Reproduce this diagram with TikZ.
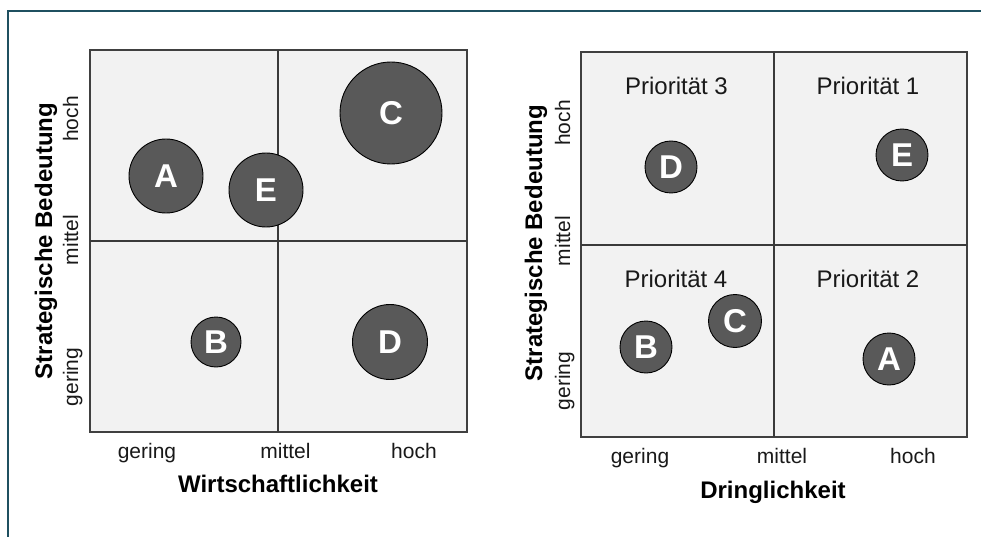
\documentclass[tikz,border=0pt]{standalone}
\usepackage{fontspec}
\setmainfont{Liberation Sans}
\definecolor{frameteal}{RGB}{31,80,96}
\definecolor{boxfill}{RGB}{242,242,242}
\definecolor{boxline}{RGB}{64,64,64}
\definecolor{bubble}{RGB}{89,89,89}
\tikzset{
  panel/.style={draw=boxline, line width=1.5pt, fill=boxfill},
  divider/.style={draw=boxline!90!black, line width=1.2pt},
  tick/.style={font=\fontsize{21}{25}\selectfont, text=black!90, anchor=base, inner sep=0pt},
  ytick/.style={tick, rotate=90},
  axistitle/.style={font=\fontsize{24}{28}\selectfont\bfseries, anchor=base, inner sep=0pt},
  yaxistitle/.style={axistitle, rotate=90},
  prio/.style={font=\fontsize{24}{28}\selectfont, text=black!90, anchor=base, inner sep=0pt},
  bub/.style={circle, draw=black, line width=0.9pt, fill=bubble, inner sep=0pt,
     text=white, font=\fontsize{33}{36}\selectfont\bfseries, minimum size=#1}
}
\begin{document}
\begin{tikzpicture}[x=1pt,y=-1pt]
\useasboundingbox (0,0) rectangle (981,537);
% outer frame
\draw[frameteal, line width=1.5pt] (981,11) -- (8,11) -- (8,537);

% ---------- left panel ----------
\path[panel] (90,50) rectangle (467,432);
\draw[divider] (278,50) -- (278,432);
\draw[divider] (90,241) -- (467,241);

\node[tick] (lxg) at (147,458) {gering};
\node[tick] (lxm) at (285.5,458) {mittel};
\node[tick] (lxh) at (414,458) {hoch};
\node[axistitle] (lxt) at (278,492) {Wirtschaftlichkeit};

\node[ytick] (lyh) at (78,119) {hoch};
\node[ytick] (lym) at (78,240) {mittel};
\node[ytick] (lyg) at (78,377) {gering};
\node[yaxistitle] (lyt) at (52,241) {Strategische Bedeutung};

\node[bub=74pt] (lA) at (166,176) {A};
\node[bub=74pt] (lE) at (266,190) {E};
\node[bub=102pt] (lC) at (391,113) {C};
\node[bub=50pt] (lB) at (216,342) {B};
\node[bub=75pt] (lD) at (390,342) {D};

% ---------- right panel ----------
\path[panel] (581,52) rectangle (967,437);
\draw[divider] (774,52) -- (774,437);
\draw[divider] (581,245) -- (967,245);

\node[prio] (p3) at (676.5,95) {Priorität 3};
\node[prio] (p1) at (868,95) {Priorität 1};
\node[prio] (p4) at (676,287.5) {Priorität 4};
\node[prio] (p2) at (868,287.5) {Priorität 2};

\node[tick] (rxg) at (640,463.5) {gering};
\node[tick] (rxm) at (782,463.5) {mittel};
\node[tick] (rxh) at (913,463.5) {hoch};
\node[axistitle] (rxt) at (773,498) {Dringlichkeit};

\node[ytick] (ryh) at (570,123) {hoch};
\node[ytick] (rym) at (570,241) {mittel};
\node[ytick] (ryg) at (570,381) {gering};
\node[yaxistitle] (ryt) at (542,243) {Strategische Bedeutung};

\node[bub=52pt] (rD) at (671,167) {D};
\node[bub=52pt] (rE) at (902,155) {E};
\node[bub=52pt] (rB) at (646,347) {B};
\node[bub=53pt] (rC) at (735,321) {C};
\node[bub=52pt] (rA) at (889,359) {A};
\end{tikzpicture}
\end{document}
